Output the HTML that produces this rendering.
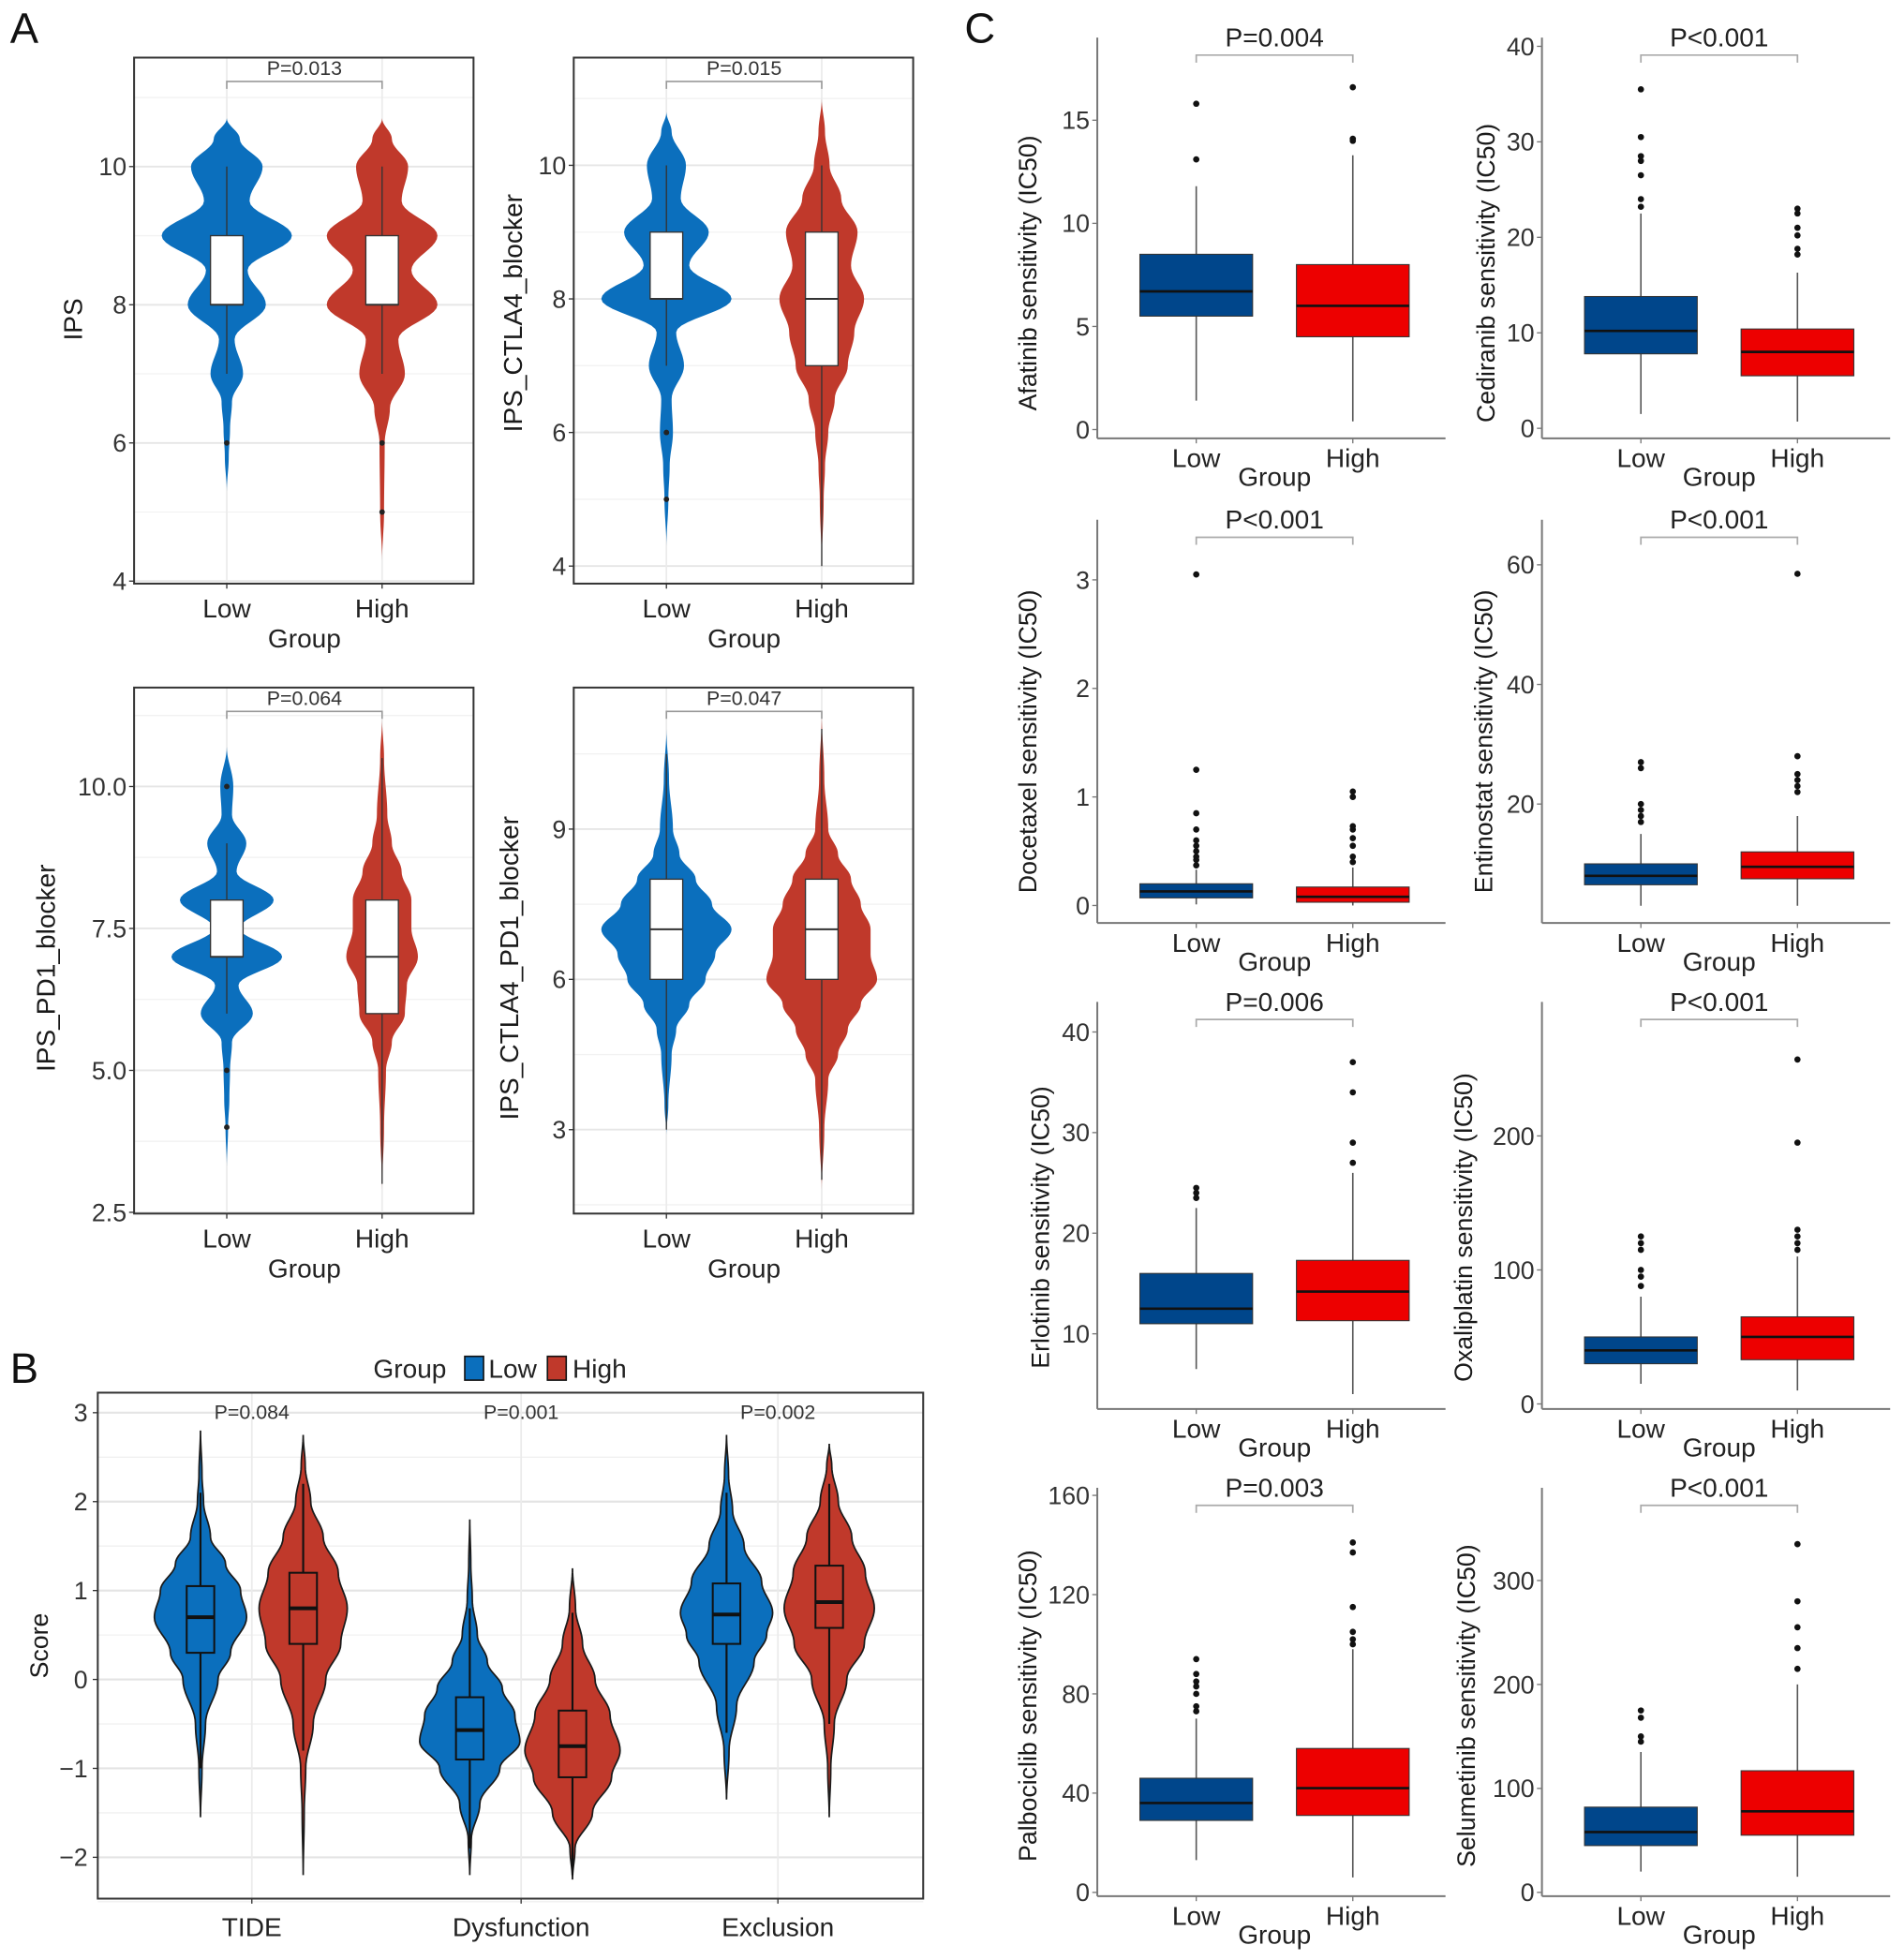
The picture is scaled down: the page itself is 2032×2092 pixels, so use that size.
<!DOCTYPE html>
<html><head><meta charset="utf-8">
<style>
html,body{margin:0;padding:0;background:#fff;}
svg{display:block;font-family:"Liberation Sans",sans-serif;}
</style></head>
<body>
<svg id="fig" width="2032" height="2092" viewBox="0 0 1520 1565" xmlns="http://www.w3.org/2000/svg"></svg>
<script>
// ---------- Panel A data ----------
const aGroups = ["Low", "High"];
const ipsLowDens = [[5.3,0],[5.8,.03],[6.2,.05],[6.6,.08],[7,.25],[7.5,.12],[8,.6],[8.5,.32],[9,1],[9.5,.35],[10,.55],[10.4,.2],[10.7,0]];
const ipsHighDens = [[4.3,0],[5,.03],[6,.04],[6.5,.12],[7,.35],[7.5,.25],[8,.85],[8.5,.45],[9,.85],[9.5,.3],[10,.4],[10.4,.15],[10.7,0]];
const ipsLowBox = [7,8,8,9,10];
const ipsHighBox = [7,8,8,9,10];
const ipsLowOut = [6];
const ipsHighOut = [6,5];
const ctlaLowDens = [[4.3,0],[5,.03],[5.5,.05],[6,.1],[6.5,.08],[7,.27],[7.5,.15],[8,1],[8.5,.35],[9,.65],[9.5,.22],[10,.3],[10.5,.08],[10.8,0]];
const ctlaHighDens = [[4,0],[5,.03],[5.5,.05],[6,.1],[6.5,.2],[7,.4],[7.5,.5],[8,.65],[8.5,.45],[9,.55],[9.5,.3],[10,.12],[10.5,.05],[11,0]];
const ctlaLowBox = [7,8,8,9,10];
const ctlaHighBox = [4,7,8,9,10];
const ctlaLowOut = [6,5];
const ctlaHighOut = [];
const pd1LowDens = [[3.3,0],[4,.02],[4.5,.04],[5,.05],[5.5,.08],[6,.4],[6.5,.18],[7,.85],[7.5,.2],[8,.72],[8.5,.15],[9,.3],[9.5,.08],[10,.1],[10.7,0]];
const pd1HighDens = [[2.9,0],[4,.03],[5,.06],[5.5,.15],[6,.35],[6.5,.38],[7,.55],[7.5,.45],[8,.45],[8.5,.3],[9,.15],[9.5,.08],[10.5,.03],[11.2,0]];
const pd1LowBox = [6,7,7,8,9];
const pd1HighBox = [3,6,7,8,10.5];
const pd1LowOut = [10,5,4];
const pd1HighOut = [];
const bothLowDens = [[2.9,0],[3.5,.03],[4.5,.08],[5,.15],[5.5,.35],[6,.6],[6.5,.75],[7,1],[7.5,.7],[8,.45],[8.5,.2],[9,.1],[10,.04],[11,0]];
const bothHighDens = [[1.8,0],[3,.04],[4,.1],[4.5,.25],[5,.4],[5.5,.6],[6,.85],[6.5,.75],[7,.75],[7.5,.6],[8,.45],[8.5,.25],[9,.1],[10,.04],[11.3,0]];
const bothLowBox = [3,6,7,8,10.5];
const bothHighBox = [2,6,7,8,11];
const bothLowOut = [];
const bothHighOut = [];
const ipsTicks = [4,6,8,10];
const ctlaTicks = [4,6,8,10];
const pd1Ticks = [2.5,5.0,7.5,10.0];
const bothTicks = [3,6,9];

// ---------- Panel B data ----------
const bCategories = ["TIDE","Dysfunction","Exclusion"];
const bPvalues = ["P=0.084","P=0.001","P=0.002"];
const bTicks = [-2,-1,0,1,2,3];
const tideLowDens = [[-1.55,0],[-1,.03],[-0.5,.1],[0,.35],[0.3,.6],[0.7,.92],[1,.8],[1.3,.5],[1.6,.2],[2,.06],[2.3,.03],[2.8,0]];
const tideHighDens = [[-2.2,0],[-1.5,.02],[-1,.05],[-0.5,.2],[0,.45],[0.4,.75],[0.8,.88],[1.2,.7],[1.6,.4],[2,.15],[2.4,.04],[2.75,0]];
const dysLowDens = [[-2.2,0],[-1.8,.03],[-1.4,.2],[-1,.6],[-0.7,1],[-0.4,.9],[-0.1,.65],[0.2,.35],[0.5,.15],[0.9,.05],[1.3,.02],[1.8,0]];
const dysHighDens = [[-2.25,0],[-1.9,.05],[-1.5,.4],[-1.1,.78],[-0.8,.95],[-0.4,.75],[0,.45],[0.4,.2],[0.8,.06],[1.25,0]];
const exclLowDens = [[-1.35,0],[-0.8,.05],[-0.3,.2],[0.2,.55],[0.5,.8],[0.75,.92],[1.1,.7],[1.5,.35],[1.9,.12],[2.3,.04],[2.75,0]];
const exclHighDens = [[-1.55,0],[-1,.03],[-0.5,.1],[0,.35],[0.4,.7],[0.8,.9],[1.2,.72],[1.6,.45],[2,.18],[2.4,.05],[2.65,0]];
const tideLowBox = [-1,0.3,0.7,1.05,2.1];
const tideHighBox = [-0.8,0.4,0.8,1.2,2.2];
const dysLowBox = [-1.9,-0.9,-0.57,-0.2,0.8];
const dysHighBox = [-2.2,-1.1,-0.75,-0.35,0.75];
const exclLowBox = [-0.6,0.4,0.73,1.08,2.1];
const exclHighBox = [-0.5,0.58,0.87,1.28,2.2];

// ---------- Panel C data ----------
const afatinibLow = [1.4,5.5,6.7,8.5,11.8];
const afatinibHigh = [0.4,4.5,6.0,8.0,13.3];
const afatinibLowOut = [13.1,15.8];
const afatinibHighOut = [14,14.1,16.6];
const afatinibTicks = [0,5,10,15];
const cediranibLow = [1.5,7.8,10.2,13.8,22.5];
const cediranibHigh = [0.7,5.5,8,10.4,16.3];
const cediranibLowOut = [23.2,24,26.5,28,28.5,30.5,35.5];
const cediranibHighOut = [18.2,18.8,20.2,21,22.5,23];
const cediranibTicks = [0,10,20,30,40];
const docetaxelLow = [0.01,0.07,0.13,0.2,0.33];
const docetaxelHigh = [0,0.03,0.08,0.17,0.35];
const docetaxelLowOut = [0.37,0.42,0.45,0.5,0.55,0.6,0.7,0.85,1.25,3.05];
const docetaxelHighOut = [0.4,0.45,0.55,0.62,0.7,0.73,1.0,1.05];
const docetaxelTicks = [0,1,2,3];
const entinostatLow = [3,6.5,8,10,15];
const entinostatHigh = [3,7.5,9.5,12,18];
const entinostatLowOut = [17,18,19,20,26,27];
const entinostatHighOut = [22,23,24,25,28,58.5];
const entinostatTicks = [20,40,60];
const erlotinibLow = [6.5,11,12.5,16,22.5];
const erlotinibHigh = [4,11.3,14.2,17.3,26];
const erlotinibLowOut = [23.5,24,24.5];
const erlotinibHighOut = [27,29,34,37];
const erlotinibTicks = [10,20,30,40];
const oxaliplatinLow = [15,30,40,50,80];
const oxaliplatinHigh = [10,33,50,65,110];
const oxaliplatinLowOut = [88,95,100,115,120,125];
const oxaliplatinHighOut = [115,120,125,130,195,257];
const oxaliplatinTicks = [0,100,200];
const palbociclibLow = [13,29,36,46,70];
const palbociclibHigh = [6,31,42,58,98];
const palbociclibLowOut = [73,75,80,83,85,88,94];
const palbociclibHighOut = [100,102,105,115,137,141];
const palbociclibTicks = [0,40,80,120,160];
const selumetinibLow = [20,45,58,82,135];
const selumetinibHigh = [15,55,78,117,200];
const selumetinibLowOut = [145,150,168,175];
const selumetinibHighOut = [215,235,255,280,335];
const selumetinibTicks = [0,100,200,300];

// ---------- helpers ----------
const NS = 'http://www.w3.org/2000/svg';
const svg = document.getElementById('fig');
function mk(tag, attrs, parent, name, inter) {
  const e = document.createElementNS(NS, tag);
  for (const k in attrs) e.setAttribute(k, attrs[k]);
  
  
  (parent || svg).appendChild(e);
  return e;
}
function txt(s, x, y, size, attrs, parent, name) {
  const a = Object.assign({x: x, y: y, 'font-size': size, fill: '#222'}, attrs || {});
  const t = mk('text', a, parent, name);
  t.textContent = s;
  return t;
}
function linScale(v0, p0, v1, p1) { return v => p0 + (v - v0) * (p1 - p0) / (v1 - v0); }
function violinPath(dens, cx, y, maxHW) {
  const samples = [];
  for (let i = 0; i < dens.length - 1; i++) {
    const [v0, d0] = dens[i], [v1, d1] = dens[i + 1];
    for (let s = 0; s < 10; s++) {
      const t = s / 10, tt = (1 - Math.cos(Math.PI * t)) / 2;
      samples.push([v0 + (v1 - v0) * t, d0 + (d1 - d0) * tt]);
    }
  }
  samples.push(dens[dens.length - 1]);
  let d = '';
  samples.forEach((p, i) => { d += (i ? 'L' : 'M') + (cx + p[1] * maxHW).toFixed(2) + ' ' + y(p[0]).toFixed(2); });
  for (let i = samples.length - 1; i >= 0; i--) { const p = samples[i]; d += 'L' + (cx - p[1] * maxHW).toFixed(2) + ' ' + y(p[0]).toFixed(2); }
  return d + 'Z';
}
function rotLabel(s, x, y, size, name) {
  txt(s, x, y, size, {'text-anchor': 'middle', transform: 'rotate(-90 ' + x + ' ' + y + ')', 'dominant-baseline': 'middle', fill: '#1a1a1a'}, null, name);
}

// ---------- Panel letters ----------
txt('A', 8, 34, 34, {fill: '#111'}, null, 'panel-label-a');
txt('B', 8, 1104, 34, {fill: '#111'}, null, 'panel-label-b');
txt('C', 770, 34, 34, {fill: '#111'}, null, 'panel-label-c');

// ---------- Panel A ----------
const BLUE = '#0b6fbd', RED = '#c0392b';
function violinPanelA(cfg) {
  const g = mk('g', {}, svg, cfg.name);
  const L = cfg.x0, R = cfg.x0 + 271, T = cfg.y0, B = cfg.y0 + 420;
  const y = linScale(cfg.t0, cfg.p0, cfg.t1, cfg.p1);
  const xs = [L + 74, L + 198];
  mk('rect', {x: L, y: T, width: 271, height: 420, fill: '#fff'}, g, 'plot-background');
  // grid
  const step = cfg.ticks[1] - cfg.ticks[0];
  for (let v = cfg.ticks[0] - step; v <= cfg.ticks[cfg.ticks.length - 1] + step; v += step / 2) {
    const yy = y(v);
    if (yy < T || yy > B) continue;
    const major = cfg.ticks.some(t => Math.abs(t - v) < 1e-9);
    mk('line', {x1: L, x2: R, y1: yy, y2: yy, stroke: major ? '#e6e6e6' : '#f2f2f2', 'stroke-width': major ? 1.4 : 1}, g, 'grid-line');
  }
  xs.forEach(x => mk('line', {x1: x, x2: x, y1: T, y2: B, stroke: '#ebebeb', 'stroke-width': 1.3}, g, 'grid-line-x'));
  const sets = [[cfg.lowDens, cfg.lowBox, cfg.lowOut, BLUE, 'low'], [cfg.highDens, cfg.highBox, cfg.highOut, RED, 'high']];
  sets.forEach((s, i) => {
    const cx = xs[i];
    mk('path', {d: violinPath(s[0], cx, y, 52), fill: s[3]}, g, 'violin-' + s[4]);
    const b = s[1];
    mk('line', {x1: cx, x2: cx, y1: y(b[0]), y2: y(b[4]), stroke: '#333', 'stroke-width': 1}, g, 'whisker-' + s[4]);
    mk('rect', {x: cx - 13, y: y(b[3]), width: 26, height: y(b[1]) - y(b[3]), fill: '#fff', stroke: '#333', 'stroke-width': 1}, g, 'box-' + s[4]);
    mk('line', {x1: cx - 13, x2: cx + 13, y1: y(b[2]), y2: y(b[2]), stroke: '#333', 'stroke-width': 1.5}, g, 'median-' + s[4]);
    s[2].forEach(o => mk('circle', {cx: cx, cy: y(o), r: 2.2, fill: '#222'}, g, 'outlier-' + s[4]));
  });
  mk('rect', {x: L, y: T, width: 271, height: 420, fill: 'none', stroke: '#333', 'stroke-width': 1.5}, g, 'plot-border');
  // p-value bracket
  mk('path', {d: 'M' + xs[0] + ' ' + (T + 25) + 'V' + (T + 19) + 'H' + xs[1] + 'V' + (T + 25), fill: 'none', stroke: '#999', 'stroke-width': 1.2}, g, 'p-bracket');
  txt(cfg.p, (xs[0] + xs[1]) / 2, T + 14, 16, {'text-anchor': 'middle', fill: '#333'}, g, 'p-value');
  cfg.ticks.forEach(t => {
    mk('line', {x1: L - 4, x2: L, y1: y(t), y2: y(t), stroke: '#333'}, g, 'y-tick');
    txt(cfg.fmt ? t.toFixed(1) : String(t), L - 6, y(t) + 7, 20, {'text-anchor': 'end', fill: '#333'}, g, 'y-tick-label');
  });
  xs.forEach((x, i) => {
    mk('line', {x1: x, x2: x, y1: B, y2: B + 4, stroke: '#333'}, g, 'x-tick');
    txt(aGroups[i], x, B + 27, 21, {'text-anchor': 'middle', fill: '#222'}, g, 'x-tick-label');
  });
  txt('Group', L + 136, B + 51, 21, {'text-anchor': 'middle', fill: '#222'}, g, 'x-axis-title');
  rotLabel(cfg.title, cfg.tx, cfg.ty, 21, 'y-axis-title');
}
violinPanelA({name: 'ips-violin-chart', x0: 107, y0: 46, t0: 10, p0: 133, t1: 4, p1: 464, ticks: ipsTicks, lowDens: ipsLowDens, highDens: ipsHighDens, lowBox: ipsLowBox, highBox: ipsHighBox, lowOut: ipsLowOut, highOut: ipsHighOut, p: 'P=0.013', title: 'IPS', tx: 60, ty: 255});
violinPanelA({name: 'ips-ctla4-violin-chart', x0: 458, y0: 46, t0: 10, p0: 132, t1: 4, p1: 452, ticks: ctlaTicks, lowDens: ctlaLowDens, highDens: ctlaHighDens, lowBox: ctlaLowBox, highBox: ctlaHighBox, lowOut: ctlaLowOut, highOut: ctlaHighOut, p: 'P=0.015', title: 'IPS_CTLA4_blocker', tx: 411, ty: 250});
violinPanelA({name: 'ips-pd1-violin-chart', x0: 107, y0: 549, t0: 10, p0: 628, t1: 2.5, p1: 968, ticks: pd1Ticks, fmt: true, lowDens: pd1LowDens, highDens: pd1HighDens, lowBox: pd1LowBox, highBox: pd1HighBox, lowOut: pd1LowOut, highOut: pd1HighOut, p: 'P=0.064', title: 'IPS_PD1_blocker', tx: 38, ty: 773});
violinPanelA({name: 'ips-ctla4-pd1-violin-chart', x0: 458, y0: 549, t0: 9, p0: 662, t1: 3, p1: 902, ticks: bothTicks, lowDens: bothLowDens, highDens: bothHighDens, lowBox: bothLowBox, highBox: bothHighBox, lowOut: bothLowOut, highOut: bothHighOut, p: 'P=0.047', title: 'IPS_CTLA4_PD1_blocker', tx: 408, ty: 773});

// ---------- Panel B ----------
(function () {
  const g = mk('g', {}, svg, 'tide-violin-chart');
  const L = 78, R = 737, T = 1112, B = 1516;
  const y = linScale(3, 1128, -2, 1483);
  const xc = [201, 416, 621];
  const off = 41;
  for (let v = -2.5; v <= 3; v += 0.5) {
    const major = Number.isInteger(v);
    mk('line', {x1: L, x2: R, y1: y(v), y2: y(v), stroke: major ? '#e4e4e4' : '#f0f0f0', 'stroke-width': major ? 1.6 : 1}, g, 'grid-line');
  }
  xc.forEach(x => mk('line', {x1: x, x2: x, y1: T, y2: B, stroke: '#ebebeb', 'stroke-width': 1.3}, g, 'grid-line-x'));
  const dens = [[tideLowDens, tideHighDens], [dysLowDens, dysHighDens], [exclLowDens, exclHighDens]];
  const boxes = [[tideLowBox, tideHighBox], [dysLowBox, dysHighBox], [exclLowBox, exclHighBox]];
  const cols = [BLUE, RED], nm = ['low', 'high'];
  bCategories.forEach((c, ci) => {
    [0, 1].forEach(k => {
      const cx = xc[ci] + (k ? off : -off);
      mk('path', {d: violinPath(dens[ci][k], cx, y, 40), fill: cols[k], stroke: '#1a1a1a', 'stroke-width': 1.3}, g, 'violin-' + c.toLowerCase() + '-' + nm[k]);
      const b = boxes[ci][k];
      mk('line', {x1: cx, x2: cx, y1: y(b[0]), y2: y(b[4]), stroke: '#111', 'stroke-width': 1.6}, g, 'whisker');
      mk('rect', {x: cx - 11, y: y(b[3]), width: 22, height: y(b[1]) - y(b[3]), fill: cols[k], stroke: '#111', 'stroke-width': 1.5}, g, 'box-' + nm[k]);
      mk('line', {x1: cx - 11, x2: cx + 11, y1: y(b[2]), y2: y(b[2]), stroke: '#111', 'stroke-width': 3}, g, 'median');
    });
    txt(bPvalues[ci], xc[ci], 1133, 16, {'text-anchor': 'middle', fill: '#333'}, g, 'p-value');
    mk('line', {x1: xc[ci], x2: xc[ci], y1: B, y2: B + 4, stroke: '#333'}, g, 'x-tick');
    txt(c, xc[ci], B + 30, 21, {'text-anchor': 'middle', fill: '#222'}, g, 'x-tick-label');
  });
  mk('rect', {x: L, y: T, width: R - L, height: B - T, fill: 'none', stroke: '#333', 'stroke-width': 1.5}, g, 'plot-border');
  bTicks.forEach(t => {
    mk('line', {x1: L - 4, x2: L, y1: y(t), y2: y(t), stroke: '#333'}, g, 'y-tick');
    txt(t < 0 ? '\u2212' + Math.abs(t) : String(t), L - 8, y(t) + 7, 20, {'text-anchor': 'end', fill: '#333'}, g, 'y-tick-label');
  });
  rotLabel('Score', 33, 1314, 20, 'y-axis-title');
  const lg = mk('g', {}, svg, 'legend');
  txt('Group', 298, 1100, 21, {fill: '#222'}, lg, 'legend-title');
  mk('rect', {x: 371, y: 1083, width: 15, height: 19, fill: BLUE, stroke: '#111', 'stroke-width': 1.2}, lg, 'legend-key-low');
  txt('Low', 390, 1100, 21, {fill: '#222'}, lg, 'legend-label-low');
  mk('rect', {x: 437, y: 1083, width: 15, height: 19, fill: RED, stroke: '#111', 'stroke-width': 1.2}, lg, 'legend-key-high');
  txt('High', 457, 1100, 21, {fill: '#222'}, lg, 'legend-label-high');
})();

// ---------- Panel C ----------
const CLOW = '#00468b', CHIGH = '#ed0000';
function boxPanelC(cfg) {
  const g = mk('g', {}, svg, cfg.name);
  const L = cfg.ax, R = cfg.ax + 278, T = cfg.top, B = cfg.bottom;
  const y = linScale(cfg.t0, cfg.p0, cfg.t1, cfg.p1);
  const xs = [L + 79, L + 204];
  mk('line', {x1: L, x2: L, y1: T, y2: B, stroke: '#777', 'stroke-width': 1.5}, g, 'y-axis-line');
  mk('line', {x1: L, x2: R, y1: B, y2: B, stroke: '#777', 'stroke-width': 1.5}, g, 'x-axis-line');
  const sets = [[cfg.low, cfg.lowOut, CLOW, 'low'], [cfg.high, cfg.highOut, CHIGH, 'high']];
  sets.forEach((s, i) => {
    const cx = xs[i], b = s[0];
    mk('line', {x1: cx, x2: cx, y1: y(b[0]), y2: y(b[4]), stroke: '#555', 'stroke-width': 1.2}, g, 'whisker-' + s[3]);
    mk('rect', {x: cx - 45, y: y(b[3]), width: 90, height: Math.max(1, y(b[1]) - y(b[3])), fill: s[2], stroke: '#333', 'stroke-width': 0.8}, g, 'box-' + s[3]);
    mk('line', {x1: cx - 45, x2: cx + 45, y1: y(b[2]), y2: y(b[2]), stroke: '#111', 'stroke-width': 2}, g, 'median-' + s[3]);
    s[1].forEach(o => mk('circle', {cx: cx, cy: y(o), r: 2.5, fill: '#111'}, g, 'outlier-' + s[3]));
  });
  mk('path', {d: 'M' + xs[0] + ' ' + (T + 20) + 'V' + (T + 14) + 'H' + xs[1] + 'V' + (T + 20), fill: 'none', stroke: '#aaa', 'stroke-width': 1.3}, g, 'p-bracket');
  txt(cfg.p, (xs[0] + xs[1]) / 2, T + 7, 21, {'text-anchor': 'middle', fill: '#222'}, g, 'p-value');
  cfg.ticks.forEach(t => {
    mk('line', {x1: L - 4, x2: L, y1: y(t), y2: y(t), stroke: '#777'}, g, 'y-tick');
    txt(String(t), L - 6, y(t) + 7, 20, {'text-anchor': 'end', fill: '#333'}, g, 'y-tick-label');
  });
  xs.forEach((x, i) => {
    mk('line', {x1: x, x2: x, y1: B, y2: B + 4, stroke: '#777'}, g, 'x-tick');
    txt(aGroups[i], x, B + 23, 21, {'text-anchor': 'middle', fill: '#222'}, g, 'x-tick-label');
  });
  txt('Group', (xs[0] + xs[1]) / 2, B + 38, 21, {'text-anchor': 'middle', fill: '#222'}, g, 'x-axis-title');
  rotLabel(cfg.title, cfg.tx, cfg.ty, 20, 'y-axis-title');
}
boxPanelC({name: 'afatinib-boxplot', ax: 876, top: 30, bottom: 350, t0: 0, p0: 343, t1: 15, p1: 96, ticks: afatinibTicks, low: afatinibLow, high: afatinibHigh, lowOut: afatinibLowOut, highOut: afatinibHighOut, p: 'P=0.004', title: 'Afatinib sensitivity (IC50)', tx: 822, ty: 218});
boxPanelC({name: 'cediranib-boxplot', ax: 1231, top: 30, bottom: 350, t0: 0, p0: 342, t1: 40, p1: 37, ticks: cediranibTicks, low: cediranibLow, high: cediranibHigh, lowOut: cediranibLowOut, highOut: cediranibHighOut, p: 'P<0.001', title: 'Cediranib sensitivity (IC50)', tx: 1188, ty: 218});
boxPanelC({name: 'docetaxel-boxplot', ax: 876, top: 415, bottom: 737, t0: 0, p0: 723, t1: 3, p1: 463, ticks: docetaxelTicks, low: docetaxelLow, high: docetaxelHigh, lowOut: docetaxelLowOut, highOut: docetaxelHighOut, p: 'P<0.001', title: 'Docetaxel sensitivity (IC50)', tx: 822, ty: 592});
boxPanelC({name: 'entinostat-boxplot', ax: 1231, top: 415, bottom: 737, t0: 20, p0: 642, t1: 60, p1: 451, ticks: entinostatTicks, low: entinostatLow, high: entinostatHigh, lowOut: entinostatLowOut, highOut: entinostatHighOut, p: 'P<0.001', title: 'Entinostat sensitivity (IC50)', tx: 1186, ty: 592});
boxPanelC({name: 'erlotinib-boxplot', ax: 876, top: 800, bottom: 1125, t0: 10, p0: 1065, t1: 40, p1: 824, ticks: erlotinibTicks, low: erlotinibLow, high: erlotinibHigh, lowOut: erlotinibLowOut, highOut: erlotinibHighOut, p: 'P=0.006', title: 'Erlotinib sensitivity (IC50)', tx: 832, ty: 980});
boxPanelC({name: 'oxaliplatin-boxplot', ax: 1231, top: 800, bottom: 1125, t0: 0, p0: 1121, t1: 200, p1: 907, ticks: oxaliplatinTicks, low: oxaliplatinLow, high: oxaliplatinHigh, lowOut: oxaliplatinLowOut, highOut: oxaliplatinHighOut, p: 'P<0.001', title: 'Oxaliplatin sensitivity (IC50)', tx: 1170, ty: 980});
boxPanelC({name: 'palbociclib-boxplot', ax: 876, top: 1188, bottom: 1514, t0: 0, p0: 1511, t1: 160, p1: 1194, ticks: palbociclibTicks, low: palbociclibLow, high: palbociclibHigh, lowOut: palbociclibLowOut, highOut: palbociclibHighOut, p: 'P=0.003', title: 'Palbociclib sensitivity (IC50)', tx: 822, ty: 1362});
boxPanelC({name: 'selumetinib-boxplot', ax: 1231, top: 1188, bottom: 1514, t0: 0, p0: 1511, t1: 300, p1: 1262, ticks: selumetinibTicks, low: selumetinibLow, high: selumetinibHigh, lowOut: selumetinibLowOut, highOut: selumetinibHighOut, p: 'P<0.001', title: 'Selumetinib sensitivity (IC50)', tx: 1172, ty: 1362});
</script>
</body></html>
